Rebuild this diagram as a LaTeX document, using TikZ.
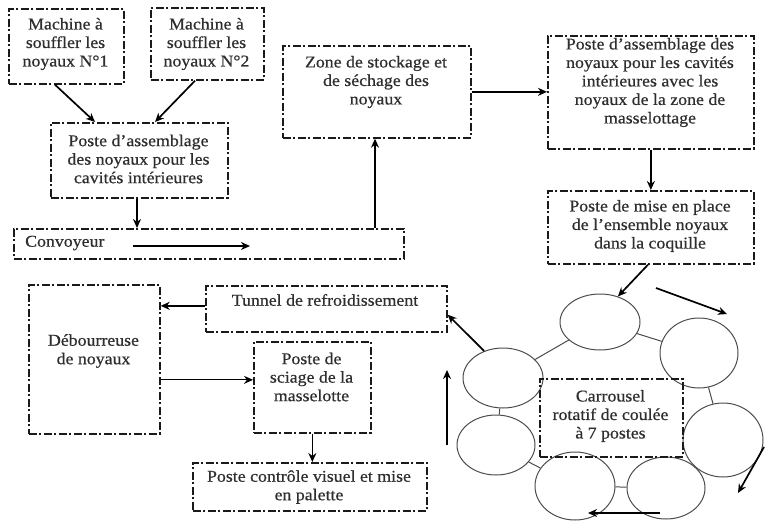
\documentclass[tikz,border=0pt]{standalone}
\usepackage{fontspec}
\setmainfont{Liberation Serif}[FakeStretch=1.08,FakeBold=0.6]
\usetikzlibrary{arrows.meta,shapes.geometric}
\definecolor{txtgray}{HTML}{2E2E2E}
\definecolor{linegray}{HTML}{1A1A1A}
\begin{document}
\begin{tikzpicture}[x=1pt,y=-1pt,
  box/.style={draw=linegray, line width=1.7pt, dash pattern=on 8pt off 2.5pt on 2pt off 2.5pt,
              inner sep=0pt, anchor=north west},
  txt/.style={font=\fontsize{16.5}{18.5}\selectfont, text=txtgray, align=center, inner sep=0pt},
  arr/.style={draw=black, line width=1.7pt, -{Stealth[length=9pt,width=8pt]}},
  thinarr/.style={draw=black, line width=1pt, -{Stealth[length=9pt,width=8pt]}},
  ell/.style={draw=black!70, line width=1pt, ellipse, inner sep=0pt},
  ring/.style={draw=black!70, line width=1pt}]
\useasboundingbox (0,0) rectangle (765,525);

% boxes
\node[box, minimum width=115pt, minimum height=75pt] (m1) at (8,8) {};
\node[box, minimum width=113pt, minimum height=72pt] (m2) at (150,7) {};
\node[box, minimum width=177pt, minimum height=75pt] (asm) at (50,122) {};
\node[box, minimum width=188pt, minimum height=92pt] (zone) at (282,45) {};
\node[box, minimum width=206pt, minimum height=113pt] (r1) at (547,35) {};
\node[box, minimum width=206pt, minimum height=73pt] (r2) at (547,190) {};
\node[box, minimum width=390pt, minimum height=30pt] (conv) at (13,228) {};
\node[box, minimum width=131pt, minimum height=149pt] (deb) at (28,284) {};
\node[box, minimum width=241pt, minimum height=46pt] (tun) at (205,285) {};
\node[box, minimum width=117pt, minimum height=91pt] (sci) at (253,341) {};
\node[box, minimum width=234pt, minimum height=48pt] (ctl) at (192,462) {};

% texts
\node[txt] (m1t) at (65.5,44) {Machine à\\souffler les\\noyaux N°1};
\node[txt] (m2t) at (206.5,44) {Machine à\\souffler les\\noyaux N°2};
\node[txt] (asmt) at (138.5,159) {Poste d'assemblage\\des noyaux pour les\\cavités intérieures};
\node[txt] (zonet) at (376,82) {Zone de stockage et\\de séchage des\\noyaux};
\node[txt] (r1t) at (650,82.5) {Poste d'assemblage des\\noyaux pour les cavités\\intérieures avec les\\noyaux de la zone de\\masselottage};
\node[txt] (r2t) at (650,226) {Poste de mise en place\\de l'ensemble noyaux\\dans la coquille};
\node[txt, anchor=west] (convt) at (25,243) {Convoyeur};
\node[txt] (debt) at (93.5,351) {Débourreuse\\de noyaux};
\node[txt] (tunt) at (325,300) {Tunnel de refroidissement};
\node[txt] (scit) at (311.5,377) {Poste de\\sciage de la\\masselotte};
\node[txt] (ctlt) at (309,487) {Poste contrôle visuel et mise\\en palette};

% carousel ellipses
\node[ell, minimum width=80pt, minimum height=56pt] (e1) at (600,322) {};
\node[ell, minimum width=78pt, minimum height=70pt] (e2) at (699,353) {};
\node[ell, minimum width=80pt, minimum height=74pt] (e3) at (723,440) {};
\node[ell, minimum width=78pt, minimum height=62pt] (e4) at (666,488) {};
\node[ell, minimum width=80pt, minimum height=68pt] (e5) at (575,486) {};
\node[ell, minimum width=78pt, minimum height=60pt] (e6) at (496,445) {};
\node[ell, minimum width=80pt, minimum height=60pt] (e7) at (503,378) {};
\draw[ring] (e1) -- (e2);
\draw[ring] (e2) -- (e3);
\draw[ring] (e3) -- (e4);
\draw[ring] (e4) -- (e5);
\draw[ring] (e5) -- (e6);
\draw[ring] (e6) -- (e7);
\draw[ring] (e7) -- (e1);
\node[box, minimum width=143pt, minimum height=78pt] (car) at (539,378) {};
\node[txt] (cart) at (610.5,416) {Carrousel\\rotatif de coulée\\à 7 postes};

% free-end coordinates
\coordinate (cv1) at (133,246);
\coordinate (cv2) at (250,246);
\coordinate (a1s) at (656,288);
\coordinate (a1e) at (727,314);
\coordinate (a2s) at (764,447);
\coordinate (a2e) at (738,493);
\coordinate (a3s) at (660,513);
\coordinate (a3e) at (588,513);
\coordinate (a4s) at (447,445);
\coordinate (a4e) at (447,370);

% connectors
\draw[arr] ([xshift=47pt]m1.south west) -- ([xshift=45pt]asm.north west);
\draw[arr] ([xshift=45pt]m2.south west) -- ([xshift=105pt]asm.north west);
\draw[arr] ([xshift=87pt]asm.south west) coordinate (c0) -- (c0 |- conv.north);
\draw[arr] ([xshift=362pt]conv.north west) coordinate (c1) -- (c1 |- zone.south);
\draw[arr] (zone.east) -- (zone.east -| r1.west);
\draw[arr] (r1.south) -- (r2.north);
\draw[arr] ([xshift=101pt]r2.south west) -- (e1.55);
\draw[arr] (e7.125) -- ([yshift=18pt]tun.south east);
\draw[arr] ([yshift=3pt]tun.west) coordinate (c2) -- (c2 -| deb.east);
\draw[thinarr] ([yshift=-20.5pt]deb.east) coordinate (c3) -- (c3 -| sci.west);
\draw[arr] (sci.south) -- (sci.south |- ctl.north);
\draw[arr] (cv1) -- (cv2);
\draw[arr] (a1s) -- (a1e);
\draw[arr] (a2s) -- (a2e);
\draw[arr] (a3s) -- (a3e);
\draw[arr] (a4s) -- (a4e);
\end{tikzpicture}
\end{document}
